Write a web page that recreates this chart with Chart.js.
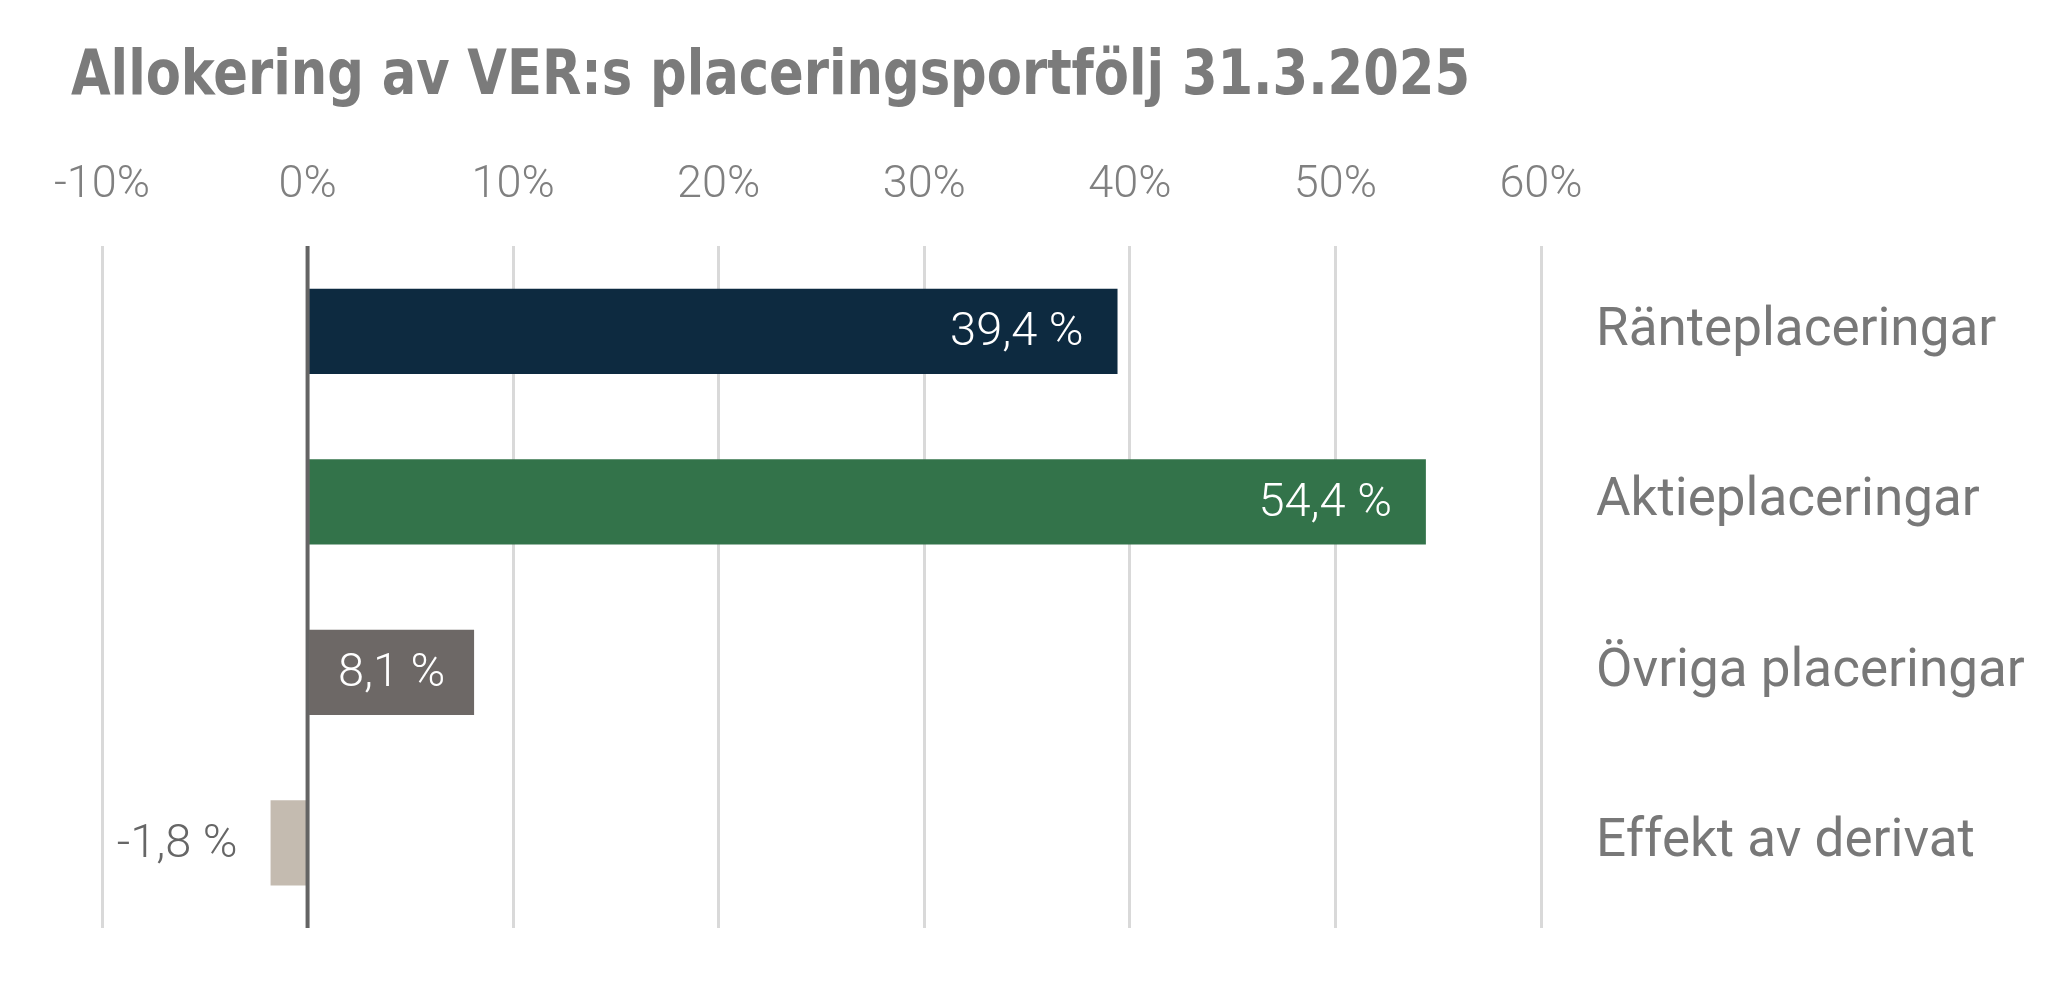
<!DOCTYPE html>
<html>
<head>
<meta charset="utf-8">
<script src="https://cdn.jsdelivr.net/npm/chart.js@4"></script>
<style>
  html, body { margin: 0; padding: 0; background: #fff; }
  canvas { display: block; }
</style>
</head>
<body>
<canvas id="allocChart" width="2050" height="982"></canvas>
<script>
// data
const chartTitle = 'Allokering av VER:s placeringsportfölj 31.3.2025';
const categories = ['Ränteplaceringar', 'Aktieplaceringar', 'Övriga placeringar', 'Effekt av derivat'];
const shares = [39.4, 54.4, 8.1, -1.8];
const barColors = ['#0d2a40', '#33734a', '#6d6866', '#c4bbb0'];
const tickValues = [-10, 0, 10, 20, 30, 40, 50, 60];

// title drawn in a narrow bold face, squeezed to the reference width
const titlePlugin = {
  id: 'titlePlugin',
  afterDraw(chart) {
    const { ctx } = chart;
    ctx.save();
    ctx.font = 'bold 63px "DejaVu Sans Condensed", "DejaVu Sans", sans-serif';
    ctx.fillStyle = '#7b7b7b';
    ctx.textBaseline = 'alphabetic';
    const w = ctx.measureText(chartTitle).width;
    ctx.translate(71, 94);
    ctx.scale(1399 / w, 1);
    ctx.fillText(chartTitle, 0, 0);
    ctx.restore();
  }
};

// value labels on the bars + zero line
const barLabels = {
  id: 'barLabels',
  afterDatasetsDraw(chart) {
    const { ctx } = chart;
    const xs = chart.scales.x;
    const area = chart.chartArea;
    const x0 = xs.getPixelForValue(0);
    ctx.save();
    ctx.strokeStyle = '#646464';
    ctx.lineWidth = 4;
    ctx.beginPath();
    ctx.moveTo(x0, area.top);
    ctx.lineTo(x0, area.bottom);
    ctx.stroke();

    ctx.font = '300 47px Roboto';
    ctx.textBaseline = 'middle';
    chart.getDatasetMeta(0).data.forEach((bar, i) => {
      const v = shares[i];
      const txt = v.toFixed(1).replace('.', ',') + ' %';
      const tw = ctx.measureText(txt).width;
      const pad = 34;
      if (v >= 0) {
        ctx.fillStyle = '#ffffff';
        if (tw + 2 * pad > bar.x - bar.base) {
          ctx.textAlign = 'center';
          ctx.fillText(txt, (bar.x + bar.base) / 2, bar.y + 2);
        } else {
          ctx.textAlign = 'right';
          ctx.fillText(txt, bar.x - pad, bar.y + 2);
        }
      } else {
        ctx.fillStyle = '#666666';
        ctx.textAlign = 'right';
        ctx.fillText(txt, bar.x - 33, bar.y + 2);
      }
    });
    ctx.restore();
  }
};

const ctx1 = document.getElementById('allocChart');
new Chart(ctx1, {
  type: 'bar',
  data: {
    labels: categories,
    datasets: [{
      data: shares,
      backgroundColor: barColors,
      borderWidth: 0,
      barPercentage: 0.5,
      categoryPercentage: 1
    }]
  },
  options: {
    indexAxis: 'y',
    responsive: false,
    animation: false,
    devicePixelRatio: 1,
    layout: { padding: { left: 102, right: 0, top: 104, bottom: 54 } },
    plugins: {
      legend: { display: false },
      tooltip: { enabled: false },
      title: { display: false }
    },
    scales: {
      x: {
        position: 'top',
        min: -10,
        max: 60,
        afterBuildTicks(scale) {
          scale.ticks = tickValues.map(v => ({ value: v }));
        },
        afterFit(scale) { scale.height = 142; },
        border: { display: false },
        grid: {
          drawTicks: false,
          color: c => c.tick && c.tick.value === 0 ? '#646464' : '#d9d9d9',
          lineWidth: 3
        },
        ticks: {
          padding: 33,
          color: '#808080',
          font: { family: 'Roboto', size: 45, weight: 300 },
          callback: v => v + '%'
        }
      },
      y: {
        position: 'right',
        afterFit(scale) { scale.width = 509; },
        border: { display: false },
        grid: { display: false, drawTicks: true, tickLength: 35 },
        ticks: {
          padding: 20,
          color: '#787878',
          font: { family: 'Roboto', size: 53, weight: 400 }
        }
      }
    }
  },
  plugins: [barLabels, titlePlugin]
});
</script>
</body>
</html>
